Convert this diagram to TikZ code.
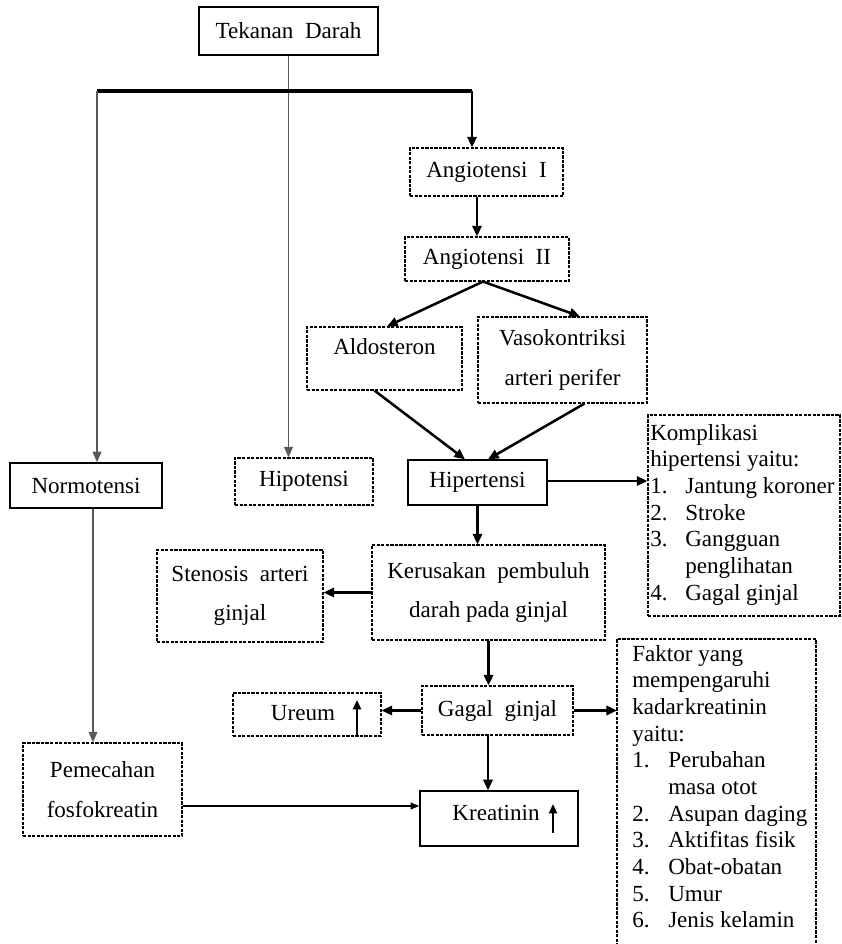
\documentclass[tikz,border=0pt]{standalone}
\usepackage{fontspec}
\setmainfont{Liberation Serif}
\usetikzlibrary{arrows.meta,calc}
\newdimen\px \px=0.75pt
\newcommand{\itmA}[1]{\makebox[26.3pt][l]{#1}}
\newcommand{\itmB}[1]{\makebox[27pt][l]{#1}}
\begin{document}
\begin{tikzpicture}[x=0.75pt,y=-0.75pt,
  font=\fontsize{17.3pt}{20pt}\selectfont,
  sbox/.style={draw, line width=1pt, inner sep=0pt, align=center},
  dbox/.style={draw, line width=0.85pt, dash pattern=on 2.4pt off 1pt, inner sep=0pt, align=center},
  two/.style={font=\fontsize{17.3pt}{29.5pt}\selectfont},
  txt/.style={inner sep=0pt},
  arr/.style={-{Triangle[length=8pt,width=7pt]}, line width=1.9pt},
  garr/.style={-{Triangle[length=8pt,width=6.5pt]}, line width=1.4pt, draw=black!65, fill=black!80},
  bar/.style={line width=2.4pt}
]
\useasboundingbox (0,0) rectangle (841,944);
\fill[white] (0,0) rectangle (841,944);
\clip (0,0) rectangle (841,944);

% boxes
\node[sbox, minimum width=179*\px, minimum height=48*\px] (tek) at (288.5,31) {Tekanan\ \ Darah};
\node[dbox, minimum width=153*\px, minimum height=48*\px] (ang1) at (486.5,172) {Angiotensi\ \ I};
\node[dbox, minimum width=164*\px, minimum height=44*\px] (ang2) at (487,259) {Angiotensi\ \ II};
\node[dbox, minimum width=155*\px, minimum height=63*\px] (ald) at (384.5,358.5) {};
\node[txt] (aldt) at (384.5,347) {Aldosteron};
\node[dbox, two, minimum width=169*\px, minimum height=86*\px] (vaso) at (562.5,360) {Vasokontriksi\\arteri perifer};
\node[sbox, minimum width=139*\px, minimum height=45*\px] (hip) at (477.5,482.5) {Hipertensi};
\node[dbox, minimum width=138*\px, minimum height=47*\px] (hipo) at (304,481.5) {Hipotensi};
\node[sbox, minimum width=152*\px, minimum height=45*\px] (norm) at (86,485.5) {Normotensi};
\node[dbox, minimum width=192*\px, minimum height=201*\px] (kompl) at (744,515.5) {};
\node[txt, anchor=north west, align=left] (komplt) at (650,424) {Komplikasi\\hipertensi yaitu:\\\itmA{1.}Jantung koroner\\\itmA{2.}Stroke\\\itmA{3.}Gangguan\\\hspace*{26.3pt}penglihatan\\\itmA{4.}Gagal\ ginjal};
\node[dbox, two, minimum width=233*\px, minimum height=95*\px] (kerus) at (488.5,592.5) {Kerusakan\ \ pembuluh\\darah pada ginjal};
\node[dbox, two, minimum width=166*\px, minimum height=92*\px] (sten) at (240,596) {Stenosis\ \ arteri\\ginjal};
\node[dbox, minimum width=151*\px, minimum height=49*\px] (gagal) at (497.5,710.5) {Gagal\ \ ginjal};
\node[dbox, minimum width=148*\px, minimum height=43*\px] (ureum) at (307,714.5) {};
\node[txt] (ureumt) at (303,713) {Ureum};
\node[sbox, minimum width=158*\px, minimum height=55*\px] (kreat) at (499,818.5) {};
\node[txt] (kreatt) at (496,813) {Kreatinin};
\node[dbox, two, minimum width=159*\px, minimum height=93*\px] (pem) at (102.5,789.5) {Pemecahan\\fosfokreatin};
\draw[line width=0.85pt, dash pattern=on 2.4pt off 1pt] (617,960) -- (617,639) -- (816,639) -- (816,960);
\node[txt, anchor=north west, align=left] (faktt) at (632,645) {Faktor yang\\mempengaruhi\\kadar\hspace{1pt}kreatinin\\yaitu:\\\itmB{1.}Perubahan\\\hspace*{27pt}masa\ otot\\\itmB{2.}Asupan daging\\\itmB{3.}Aktifitas fisik\\\itmB{4.}Obat-obatan\\\itmB{5.}Umur\\\itmB{6.}Jenis kelamin};

% coordinates
\coordinate (jl) at (97,91);
\coordinate (jr) at (472,91);
\coordinate (xn) at (93,0);
\coordinate (xg) at (488,0);
\coordinate (yp) at (0,806);
\coordinate (fakW) at (617,711);
\coordinate (uA) at (357,736);
\coordinate (uB) at (357,700);
\coordinate (kA) at (553,833);
\coordinate (kB) at (553,804);

% connectors
\draw[garr] (tek.south) -- (tek.south |- hipo.north);
\draw[bar] (jl) -- (jr);
\draw[garr] (jl) -- (jl |- norm.north);
\draw[arr] (jr) -- (jr |- ang1.north);
\draw[arr] ($(ang1.south)+(-9.5,0)$) -- ($(ang2.north)+(-10,0)$);
\draw[arr] ($(ang2.south)+(-4,0)$) -- ($(ald.north)+(2.5,0)$);
\draw[arr] ($(ang2.south)+(-4,0)$) -- ($(vaso.north)+(17.5,0)$);
\draw[arr] ($(ald.south)+(-10,0)$) -- ($(hip.north)+(-12.5,0)$);
\draw[arr] ($(vaso.south)+(22,0)$) -- ($(hip.north)+(10.5,0)$);
\draw[arr] ($(hip.east)+(0,-1.5)$) -- ($(hip.east -| kompl.west)+(0,-1.5)$);
\draw[arr] (hip.south) -- (hip.south |- kerus.north);
\draw[arr] (kerus.west) -- (kerus.west -| sten.east);
\draw[arr] (kerus.south) -- (kerus.south |- gagal.north);
\draw[arr] (gagal.west) -- (gagal.west -| ureum.east);
\draw[arr] (gagal.east) -- (gagal.east -| fakW);
\draw[arr] (gagal.south -| xg) -- (kreat.north -| xg);
\draw[garr] (norm.south -| xn) -- (pem.north -| xn);
\draw[-{Triangle[length=6.5pt,width=5pt]}, line width=1.1pt] (pem.east |- yp) -- (kreat.west |- yp);
\draw[-{Triangle[length=7pt,width=6pt]}, line width=1.6pt] (uA) -- (uB);
\draw[-{Triangle[length=7pt,width=6pt]}, line width=1.6pt] (kA) -- (kB);
\end{tikzpicture}
\end{document}
